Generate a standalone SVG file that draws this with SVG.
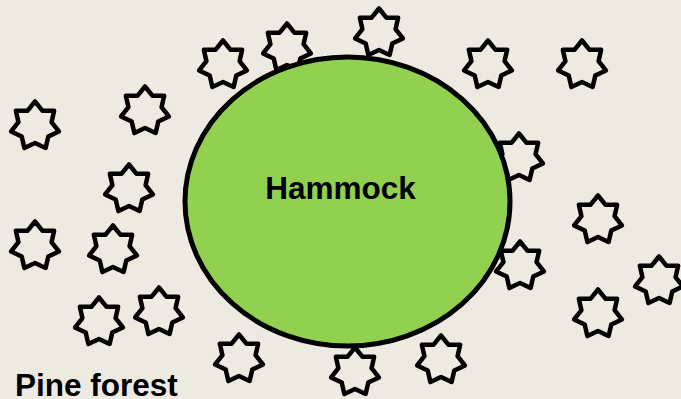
<svg xmlns="http://www.w3.org/2000/svg" xmlns:xlink="http://www.w3.org/1999/xlink" width="681" height="399" viewBox="0 0 681 399">
<style>
.star{fill:#EDEBE1;stroke:#000;stroke-width:4.5;stroke-linejoin:round}
.lbl{font-family:"Liberation Sans",Arial,sans-serif;font-weight:bold;font-size:31.5px;fill:#000}
</style>
<defs>
<path id="s7" class="star" d="M0,-24.5 L7.38,-15.32 L19.15,-15.28 L16.57,-3.78 L23.89,5.45 L13.29,10.6 L10.63,22.07 L0,17 L-10.63,22.07 L-13.29,10.6 L-23.89,5.45 L-16.57,-3.78 L-19.15,-15.28 L-7.38,-15.32 Z"/>
</defs>
<rect width="681" height="399" fill="#EDEBE1"/>
<g id="pine-forest">
<use xlink:href="#s7" x="223" y="65"/>
<use xlink:href="#s7" x="287" y="48"/>
<use xlink:href="#s7" x="379" y="33"/>
<use xlink:href="#s7" x="488" y="65"/>
<use xlink:href="#s7" x="582" y="65"/>
<use xlink:href="#s7" x="145" y="111"/>
<use xlink:href="#s7" x="35" y="126"/>
<use xlink:href="#s7" x="519" y="158"/>
<use xlink:href="#s7" x="129" y="189"/>
<use xlink:href="#s7" x="598" y="220"/>
<use xlink:href="#s7" x="35" y="246"/>
<use xlink:href="#s7" x="113" y="250"/>
<use xlink:href="#s7" x="520" y="266"/>
<use xlink:href="#s7" x="659" y="281"/>
<use xlink:href="#s7" x="99" y="322"/>
<use xlink:href="#s7" x="159" y="312"/>
<use xlink:href="#s7" x="598" y="314"/>
<use xlink:href="#s7" x="239" y="359"/>
<use xlink:href="#s7" x="355" y="372"/>
<use xlink:href="#s7" x="441" y="360"/>
<text class="lbl" x="15" y="396">Pine forest</text>
</g>
<g id="hammock">
<ellipse cx="347.5" cy="201.5" rx="162.5" ry="144.5" fill="#92D050" stroke="#000" stroke-width="5"/>
<text class="lbl" x="340.5" y="199" text-anchor="middle">Hammock</text>
</g>
<g id="connectors"/>
</svg>
